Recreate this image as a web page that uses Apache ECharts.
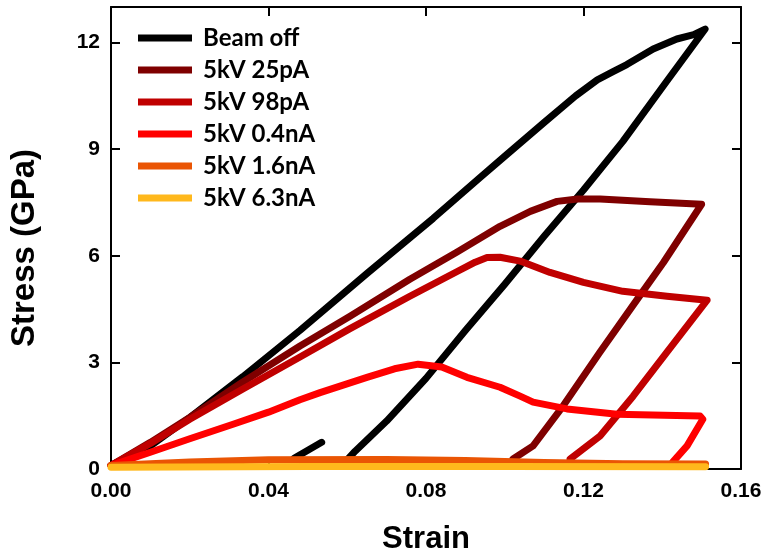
<!DOCTYPE html>
<html>
<head>
<meta charset="utf-8">
<script src="https://cdn.jsdelivr.net/npm/echarts@6/dist/echarts.min.js"></script>
<style>
html,body{margin:0;padding:0;background:#fff;}
#chart{width:768px;height:560px;}
</style>
</head>
<body>
<div id="chart"></div>
<script>
// ---- data (strain, stress in GPa) ----
const seriesNames = ['Beam off', '5kV 25pA', '5kV 98pA', '5kV 0.4nA', '5kV 1.6nA', '5kV 6.3nA'];
const seriesColors = ['#000000', '#7f0000', '#c00000', '#ff0000', '#ea5504', '#ffb81c'];

const beamOffStrain = [0, 0.01, 0.02, 0.0335, 0.048, 0.065, 0.0818, 0.0937, 0.1, 0.11, 0.118, 0.1235, 0.1275, 0.131, 0.1377, 0.1437, 0.148, 0.1509,
                       0.141, 0.130, 0.12, 0.11, 0.10, 0.09, 0.08, 0.07, 0.062, 0.0595, '-', 0.0465, 0.0535];
const beamOffStress = [0.1, 0.65, 1.45, 2.6, 3.9, 5.5, 7.05, 8.2, 8.8, 9.75, 10.5, 10.95, 11.18, 11.38, 11.82, 12.1, 12.22, 12.38,
                       10.89, 9.22, 7.85, 6.55, 5.2, 3.9, 2.55, 1.35, 0.5, 0.2, '-', 0.3, 0.75];

const pA25Strain = [0, 0.01, 0.02, 0.0335, 0.048, 0.0607, 0.0759, 0.0878, 0.0988, 0.1065, 0.1133, 0.1185, 0.1242, 0.1369, 0.150, 0.1505,
                    0.1403, 0.1349, 0.1242, 0.1148, 0.1072, 0.1021];
const pA25Stress = [0.1, 0.75, 1.45, 2.45, 3.46, 4.3, 5.34, 6.1, 6.83, 7.25, 7.53, 7.6, 7.6, 7.52, 7.45, 7.4,
                    5.81, 4.97, 3.29, 1.77, 0.65, 0.28];

const pA98Strain = [0, 0.01, 0.02, 0.0335, 0.048, 0.0607, 0.0759, 0.0878, 0.0925, 0.0955, 0.0988, 0.1039, 0.1115, 0.120, 0.130, 0.1412, 0.1514,
                    0.1412, 0.1326, 0.1242, 0.1166];
const pA98Stress = [0.1, 0.72, 1.4, 2.25, 3.15, 3.95, 4.86, 5.55, 5.82, 5.95, 5.96, 5.85, 5.53, 5.25, 5.0, 4.86, 4.75,
                    3.29, 2.05, 0.93, 0.28];

const nA04Strain = [0, 0.01, 0.02, 0.031, 0.04, 0.048, 0.0531, 0.065, 0.072, 0.078, 0.084, 0.0904, 0.0988, 0.1039, 0.1072, 0.1158, 0.1285, 0.1496,
                    0.1503, 0.1463, 0.1427];
const nA04Stress = [0.1, 0.47, 0.85, 1.26, 1.6, 1.95, 2.15, 2.58, 2.82, 2.95, 2.87, 2.58, 2.3, 2.05, 1.88, 1.69, 1.54, 1.49,
                    1.4, 0.65, 0.2];

const nA16Strain = [0, 0.02, 0.04, 0.07, 0.09, 0.11, 0.13, 0.151];
const nA16Stress = [0.1, 0.2, 0.26, 0.27, 0.24, 0.18, 0.15, 0.14];

const nA63Strain = [0, 0.05, 0.1, 0.151];
const nA63Stress = [0.05, 0.07, 0.07, 0.06];

const xTicks = [0, 0.04, 0.08, 0.12, 0.16];
const yTicks = [0, 3, 6, 9, 12];

const strainSets = [beamOffStrain, pA25Strain, pA98Strain, nA04Strain, nA16Strain, nA63Strain];
const stressSets = [beamOffStress, pA25Stress, pA98Stress, nA04Stress, nA16Stress, nA63Stress];

const tickFont = {fontFamily: '"Liberation Sans", Arial, sans-serif', fontWeight: 'bold', fontSize: 21, color: '#000'};

const series = seriesNames.map((name, i) => ({
  name: name,
  type: 'line',
  showSymbol: false,
  symbol: 'none',
  connectNulls: false,
  animation: false,
  lineStyle: {color: seriesColors[i], width: 7, cap: 'round', join: 'round'},
  itemStyle: {color: seriesColors[i]},
  data: strainSets[i].map((x, k) => (x === '-' ? ['-', '-'] : [x, stressSets[i][k]]))
}));

const axisCommon = {
  axisLine: {show: true, onZero: false, lineStyle: {color: '#000', width: 2}},
  axisTick: {show: true, inside: true, length: 9, lineStyle: {color: '#000', width: 2}},
  splitLine: {show: false}
};

const option = {
  animation: false,
  backgroundColor: '#fff',
  grid: {left: 111, right: 27, top: 7, bottom: 90, containLabel: false},
  legend: {
    orient: 'vertical',
    left: 133,
    top: 21,
    itemWidth: 54,
    itemHeight: 7,
    itemGap: 8,
    icon: 'rect',
    data: seriesNames,
    textStyle: {fontFamily: 'Lato, "Open Sans", sans-serif', fontWeight: 'bold', fontSize: 24, lineHeight: 24, color: '#000', padding: [0, 0, 0, 6]}
  },
  xAxis: [
    Object.assign({}, axisCommon, {
      type: 'value', position: 'bottom', min: xTicks[0], max: xTicks[xTicks.length - 1], interval: 0.04,
      name: 'Strain', nameLocation: 'middle', nameGap: 55,
      nameTextStyle: {fontFamily: '"Liberation Sans", Arial, sans-serif', fontWeight: 'bold', fontSize: 31, color: '#000'},
      axisLabel: Object.assign({}, tickFont, {margin: 12, formatter: v => v.toFixed(2)})
    }),
    Object.assign({}, axisCommon, {
      type: 'value', position: 'top', min: xTicks[0], max: xTicks[xTicks.length - 1], interval: 0.04,
      axisLabel: {show: false}
    })
  ],
  yAxis: [
    Object.assign({}, axisCommon, {
      type: 'value', position: 'left', min: yTicks[0], max: 13, interval: 3,
      axisLabel: Object.assign({}, tickFont, {margin: 11, formatter: v => (yTicks.indexOf(v) >= 0 ? String(v) : '')})
    }),
    Object.assign({}, axisCommon, {
      type: 'value', position: 'right', min: yTicks[0], max: 13, interval: 3,
      axisLabel: {show: false}
    })
  ],
  graphic: [{
    type: 'text',
    x: 25, y: 248,
    rotation: Math.PI / 2,
    style: {
      text: 'Stress (GPa)',
      font: 'bold 33px "Liberation Sans", Arial, sans-serif',
      fill: '#000',
      textAlign: 'center',
      textVerticalAlign: 'middle'
    }
  }],
  series: series
};

const chart = echarts.init(document.getElementById('chart'), null, {renderer: 'canvas'});
chart.setOption(option);
</script>
</body>
</html>
